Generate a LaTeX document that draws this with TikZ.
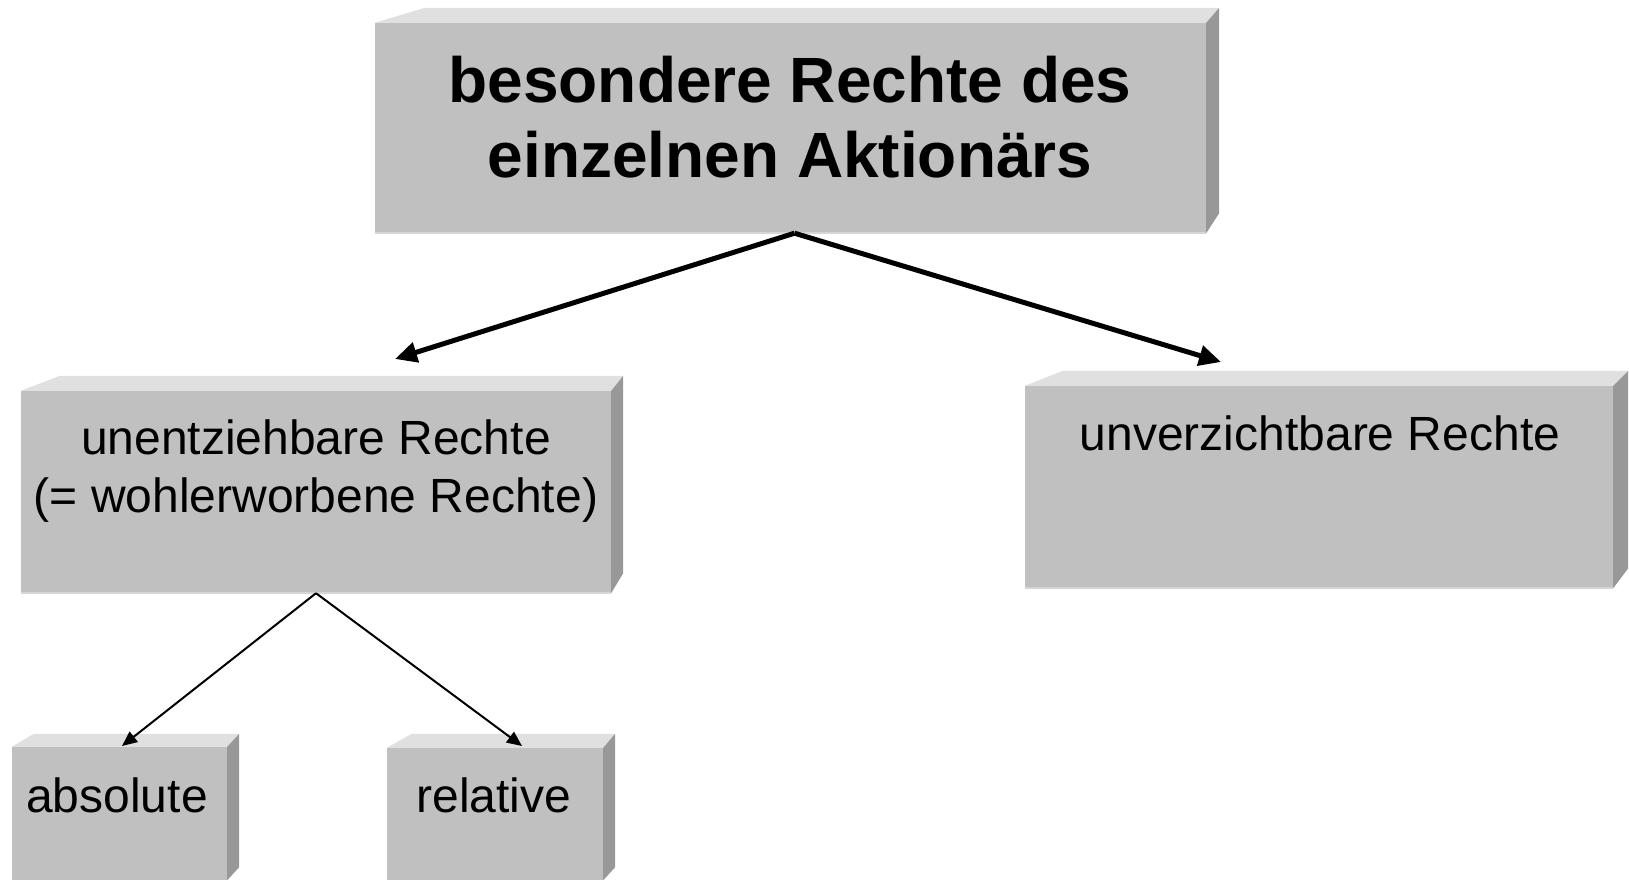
\documentclass[tikz,border=0pt]{standalone}
\usepackage{fontspec}
\setmainfont{Liberation Sans}
\usetikzlibrary{calc}
\usetikzlibrary{arrows.meta}
\definecolor{vorne}{RGB}{192, 192, 192}
\definecolor{oben}{RGB}{224, 224, 224}
\definecolor{seite}{RGB}{152, 152, 152}
\definecolor{kante}{RGB}{214, 214, 214}
\tikzset{
    vorder/.style={fill=vorne, draw=none, inner sep=0pt},
    deckel/.style={fill=oben, draw=none},
    flanke/.style={fill=seite, draw=none},
    gross/.style={font=\fontsize{64}{75}\selectfont\bfseries, align=center, inner sep=0pt},
    normal/.style={font=\fontsize{48}{58}\selectfont, align=center, inner sep=0pt},
    dickpfeil/.style={line width=5pt, -{Triangle[length=22pt, width=20pt]}},
    duennpfeil/.style={line width=2pt, -{Triangle[length=15pt, width=13pt]}}
}

\begin{document}
\begin{tikzpicture}[x=1pt, y=-1pt]
        \useasboundingbox (0,0) rectangle (1629,880);
        % Kasten oben
        \node[vorder, minimum width=831pt, minimum height=210pt] (besondere) at (790.5,128) {};
        \fill[deckel] (besondere.north west) -- ++(50,-15) -- ($(besondere.north east)+(13,-15)$) -- (besondere.north east) -- cycle;
        \fill[flanke] (besondere.north east) -- ++(13,-15) -- ($(besondere.south east)+(13,-20)$) -- (besondere.south east) -- cycle;
        \draw[kante, line width=2pt] (besondere.south west) -- (besondere.south east);
        \node[gross] (besondereText) at (790,117) {besondere Rechte des\\einzelnen Aktionärs};
        % Kasten links
        \node[vorder, minimum width=590pt, minimum height=202pt] (unentziehbar) at (316,492) {};
        \fill[deckel] (unentziehbar.north west) -- ++(39,-15) -- ($(unentziehbar.north east)+(12,-15)$) -- (unentziehbar.north east) -- cycle;
        \fill[flanke] (unentziehbar.north east) -- ++(12,-15) -- ($(unentziehbar.south east)+(12,-20)$) -- (unentziehbar.south east) -- cycle;
        \draw[kante, line width=2pt] (unentziehbar.south west) -- (unentziehbar.south east);
        \node[normal] (unentziehbarText) at (316,471) {unentziehbare Rechte\\(= wohlerworbene Rechte)};
        % Kasten rechts
        \node[vorder, minimum width=588pt, minimum height=202pt] (unverzichtbar) at (1319,487) {};
        \fill[deckel] (unverzichtbar.north west) -- ++(38,-15) -- ($(unverzichtbar.north east)+(15,-15)$) -- (unverzichtbar.north east) -- cycle;
        \fill[flanke] (unverzichtbar.north east) -- ++(15,-15) -- ($(unverzichtbar.south east)+(15,-20)$) -- (unverzichtbar.south east) -- cycle;
        \draw[kante, line width=2pt] (unverzichtbar.south west) -- (unverzichtbar.south east);
        \node[normal] (unverzichtbarText) at (1320,433) {unverzichtbare Rechte};
        % kleine Kaesten unten
        \node[vorder, minimum width=215pt, minimum height=133pt] (absolut) at (119.5,813.5) {};
        \fill[deckel] (absolut.north west) -- ++(22,-13) -- ($(absolut.north east)+(12,-13)$) -- (absolut.north east) -- cycle;
        \fill[flanke] (absolut.north east) -- ++(12,-13) -- ($(absolut.south east)+(12,-13)$) -- (absolut.south east) -- cycle;
        \node[normal] (absolutText) at (117,795) {absolute};
        \node[vorder, minimum width=216pt, minimum height=132pt] (relativ) at (495,814) {};
        \fill[deckel] (relativ.north west) -- ++(25,-14) -- ($(relativ.north east)+(12,-14)$) -- (relativ.north east) -- cycle;
        \fill[flanke] (relativ.north east) -- ++(12,-14) -- ($(relativ.south east)+(12,-13)$) -- (relativ.south east) -- cycle;
        \node[normal] (relativText) at (494,795) {relative};
        % Pfeilspitzen
        \coordinate (linksSpitze) at (395,359);
        \coordinate (rechtsSpitze) at (1221,362);
        \coordinate (absolutSpitze) at (122,746);
        \coordinate (relativSpitze) at (522,746);
        % Pfeile
        \draw[dickpfeil] ([xshift=4pt]besondere.south) -- (linksSpitze);
        \draw[dickpfeil] ([xshift=4pt]besondere.south) -- (rechtsSpitze);
        \draw[duennpfeil] (unentziehbar.south) -- (absolutSpitze);
        \draw[duennpfeil] (unentziehbar.south) -- (relativSpitze);
    \end{tikzpicture}
\end{document}
